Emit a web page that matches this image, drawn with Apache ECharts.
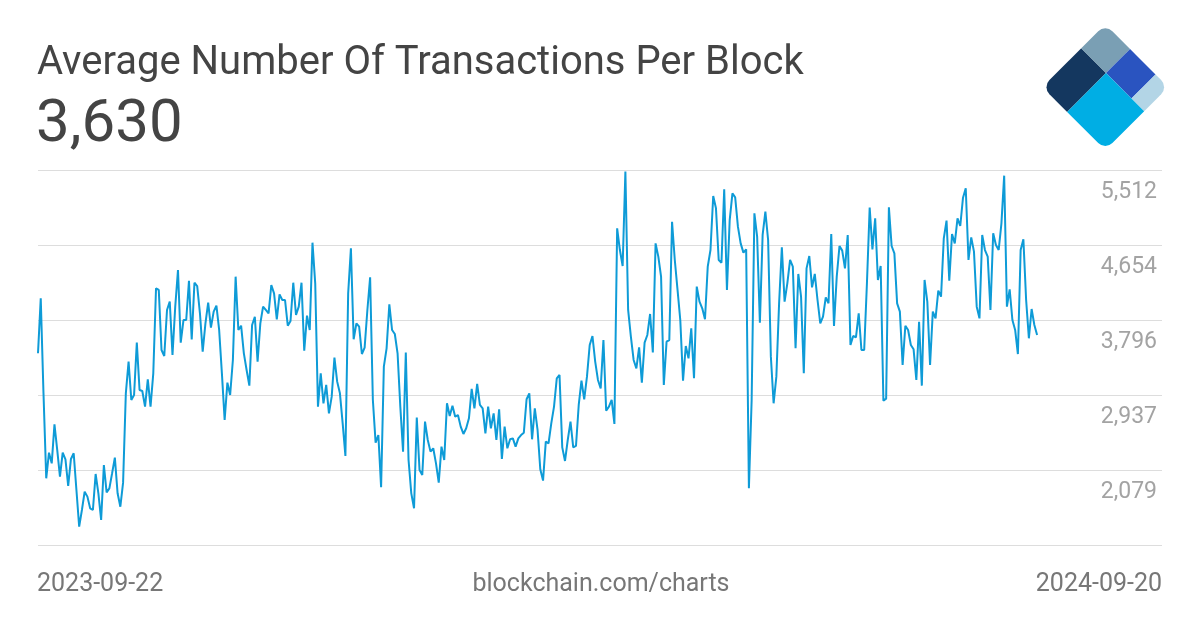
<!DOCTYPE html>
<html><head><meta charset="utf-8">
<script src="https://cdn.jsdelivr.net/npm/echarts@6/dist/echarts.min.js"></script>
<style>html,body{margin:0;padding:0;background:#fff}#c{width:1200px;height:630px}</style>
</head><body><div id="c"></div>
<script>
const chartTitle = 'Average Number Of Transactions Per Block';
const headline = '3,630';
const startDate = '2023-09-22';
const endLabel = '2024-09-20';
const sourceLabel = 'blockchain.com/charts';
const yTickLabels = [2079, 2937, 3796, 4654, 5512];
const values = [
3420,4049,2962,1990,2283,2161,2607,2314,2009,2283,
2207,1902,2211,2276,1856,1437,1627,1837,1780,1646,
1627,2039,1818,1513,2142,1829,1875,2047,2226,1818,
1665,1940,2962,3325,2886,2943,3542,3000,2989,2810,
3122,2810,3191,4164,4145,3458,3389,3916,4011,3401,
3954,4373,3542,3801,3801,4251,3580,4228,4190,3878,
3439,3763,4000,3714,3897,3965,3687,3191,2657,3084,
2943,3344,4297,3687,3736,3420,3229,3050,3744,3839,
3325,3763,3954,3916,3878,4202,4106,3809,4095,4030,
4030,3736,3790,4228,3858,3954,4228,3450,3851,3687,
4686,4221,2810,3191,2848,3058,2733,2924,3370,3096,
2962,2619,2245,4106,4621,3580,3763,3725,3412,3485,
3916,4289,2886,2398,2485,1887,3267,3477,3981,3687,
3641,3420,2810,2295,3428,2199,1818,1646,2684,2085,
2028,2638,2428,2295,2333,2161,1940,2352,2199,2848,
2703,2821,2695,2714,2581,2497,2562,2676,3012,2791,
3069,2829,2791,2505,2810,2562,2733,2428,2779,2211,
2581,2333,2436,2447,2352,2447,2485,2512,2894,2962,
2436,2791,2543,2093,1963,2409,2390,2619,2810,3134,
3172,2344,2188,2428,2638,2344,2360,2829,3107,2894,
3153,3515,3618,3325,3115,3019,3572,2764,2810,2886,
2611,4850,4602,4419,5500,3916,3611,3344,3248,3489,
3084,3542,3630,3870,3431,4678,4526,4297,3058,3553,
3572,4926,4488,4145,3801,3107,3504,3363,3706,3134,
4183,4011,3935,3809,4412,4602,5220,5079,4488,4457,
5296,4145,4945,5251,5205,4869,4678,4572,4610,1875,
2886,5022,4755,3771,4774,5041,4717,3382,2848,3153,
3992,4633,4011,4221,4488,4412,3477,4328,4068,3191,
4392,4534,4175,4328,4030,3763,3839,4061,3992,4785,
3733,4297,4648,4595,4392,4774,3515,3618,3603,3878,
3458,3458,4221,5087,4610,4965,4259,4419,2878,2901,
5090,4648,4564,3992,3897,3286,3736,3687,3515,3466,
3115,3782,3050,4259,4011,3286,3897,3820,4137,4068,
4736,4938,4251,4785,4678,4965,4877,5201,5308,4488,
4747,4583,3954,3820,4774,4602,4526,3916,4793,4659,
4602,4907,5453,3954,4152,3801,3687,3412,4602,4724,
4030,3592,3927,3744,3630
];

const DAY = 86400000;
const t0 = Date.parse(startDate + 'T00:00:00Z');
const seriesData = values.map((v, i) => [t0 + i * DAY, v]);
const step = (yTickLabels[yTickLabels.length - 1] - yTickLabels[0]) / (yTickLabels.length - 1);

const chart = echarts.init(document.getElementById('c'), null, {renderer: 'canvas'});
chart.setOption({
  animation: false,
  backgroundColor: '#ffffff',
  grid: {left: 38, right: 38, top: 170.5, bottom: 84.5},
  xAxis: {
    type: 'time',
    min: t0,
    max: t0 + 409.5 * DAY,
    axisLine: {show: false}, axisTick: {show: false}, axisLabel: {show: false},
    splitLine: {show: false}
  },
  yAxis: {
    type: 'value',
    position: 'right',
    min: yTickLabels[0] - step,
    max: yTickLabels[yTickLabels.length - 1],
    interval: step,
    axisLine: {show: false}, axisTick: {show: false},
    splitLine: {show: true, lineStyle: {color: '#dddddd', width: 1}},
    axisLabel: {
      inside: true,
      margin: 5,
      showMinLabel: false,
      verticalAlign: 'top',
      padding: [10, 0, 0, 0],
      color: '#a3a3a3',
      fontFamily: 'Roboto',
      fontSize: 23,
      formatter: v => Math.round(v).toLocaleString('en-US')
    }
  },
  series: [{
    type: 'line',
    data: seriesData,
    showSymbol: false,
    symbol: 'none',
    lineStyle: {color: '#0e9bd7', width: 2},
    itemStyle: {color: '#0e9bd7'}
  }],
  graphic: [
    {type: 'text', x: 37, y: 64, style: {text: chartTitle, font: '40px Roboto', fill: '#444444', align: 'left', verticalAlign: 'middle'}},
    {type: 'text', x: 36, y: 126, style: {text: headline, font: '60px Roboto', fill: '#444444', align: 'left', verticalAlign: 'middle'}},
    {type: 'text', x: 37, y: 585, style: {text: startDate, font: '25px Roboto', fill: '#777777', align: 'left', verticalAlign: 'middle'}},
    {type: 'text', x: 601, y: 585, style: {text: sourceLabel, font: '25px Roboto', fill: '#777777', align: 'center', verticalAlign: 'middle'}},
    {type: 'text', x: 1162, y: 585, style: {text: endLabel, font: '25px Roboto', fill: '#777777', align: 'right', verticalAlign: 'middle'}},
    {type: 'group', x: 1106, y: 73, rotation: -Math.PI / 4, children: [
      {type: 'rect', shape: {x: -35, y: 0, width: 35, height: 55, r: [0, 0, 0, 10]}, style: {fill: '#14375f'}},
      {type: 'rect', shape: {x: -35, y: -34, width: 35, height: 34, r: [10, 0, 0, 0]}, style: {fill: '#7a9fb4'}},
      {type: 'rect', shape: {x: 0, y: -34, width: 36, height: 34, r: 0}, style: {fill: '#2a54c0'}},
      {type: 'rect', shape: {x: 36, y: -34, width: 18, height: 34, r: [0, 10, 0, 0]}, style: {fill: '#b3d5e6'}},
      {type: 'rect', shape: {x: 0, y: 0, width: 54, height: 55, r: [0, 0, 10, 0]}, style: {fill: '#00aee4'}}
    ]}
  ]
});
</script>
</body></html>
